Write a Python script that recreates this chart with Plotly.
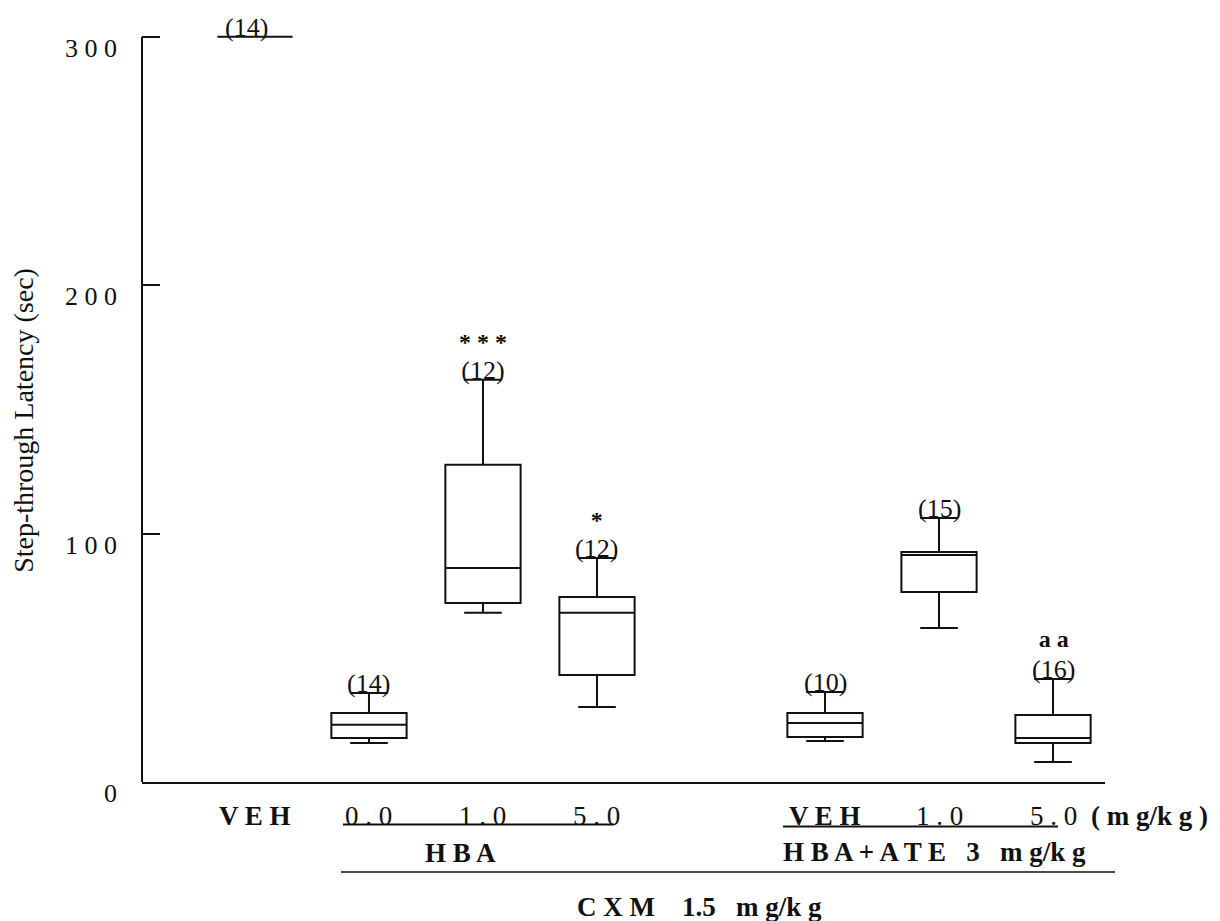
import plotly.graph_objects as go

# ---------------- data ----------------
positions = [0, 1, 2, 3, 5, 6, 7]
dose_labels = ["V E H", "0 . 0", "1 . 0", "5 . 0", "V E H", "1 . 0", "5 . 0"]
n_labels = ["(14)", "(14)", "(12)", "(12)", "(10)", "(15)", "(16)"]
sig_labels = ["", "", "* * *", "*", "", "", "a a"]
upper = [300, 35.8, 161.9, 90.2, 36.2, 106.3, 41.5]
q3 = [300, 27.8, 127.7, 74.5, 27.8, 92.6, 27.0]
median = [300, 23.0, 86.2, 68.1, 23.8, 91.4, 17.7]
q1 = [300, 17.7, 72.1, 43.1, 18.1, 76.5, 15.7]
lower = [300, 15.7, 68.1, 30.2, 16.5, 62.0, 8.1]
y_tickvals = [0, 100, 200, 300]
y_ticktext = ["0", "1 0 0", "2 0 0", "3 0 0"]

FONT = "Liberation Serif"
INK = "#111111"
SP = "\u00a0"

# plot-area geometry (pixels)
L, R, T, B = 142, 115, 12, 139
W, H = 1220, 921
PW, PH = W - L - R, H - T - B
XR = [-0.991, 7.456]


def xpaper(d, dpx=0):
    """x position (paper) of data coordinate d shifted by dpx pixels."""
    px = (d - XR[0]) / (XR[1] - XR[0]) * PW + dpx
    return px / PW


def ypaper(pix_below_axis):
    return -pix_below_axis / PH


fig = go.Figure()
fig.add_trace(go.Box(
    x=positions, q1=q1, median=median, q3=q3,
    lowerfence=lower, upperfence=upper,
    width=0.66, whiskerwidth=0.5,
    fillcolor="rgba(0,0,0,0)",
    line=dict(color=INK, width=2),
    boxpoints=False, showlegend=False, hoverinfo="skip",
))

ann = []
# n labels (with significance marks above) at the whisker tops
for p, n, s, u in zip(positions, n_labels, sig_labels, upper):
    if not s:
        ann.append(dict(x=p, y=u, xref="x", yref="y", text=n, showarrow=False,
                        xanchor="center", yanchor="bottom", yshift=-7,
                        xshift=-8 if p == 0 else 0,
                        font=dict(family=FONT, size=26, color=INK)))
    else:
        base = 24 if s.startswith("a") else 22
        txt = (f"<span style='font-size:24px'><b>{s}</b></span><br>"
               f"<span style='font-size:26px'>{n}</span>")
        ann.append(dict(x=p, y=u, xref="x", yref="y", text=txt, showarrow=False,
                        xanchor="center", yanchor="bottom", yshift=-7,
                        font=dict(family=FONT, size=base, color=INK)))

# dose labels row
for p, lab in zip(positions, dose_labels):
    bold = lab.startswith("V")
    ann.append(dict(x=p, y=0, xref="x", yref="paper",
                    text=f"<b>{lab}</b>" if bold else lab, showarrow=False,
                    xanchor="center", yanchor="middle", yshift=-34,
                    font=dict(family=FONT, size=27, color=INK)))
ann.append(dict(x=positions[-1], y=0, xref="x", yref="paper",
                text=f"<b>({SP}m{SP}g/k{SP}g{SP})</b>",
                showarrow=False, xanchor="left", yanchor="middle", yshift=-34, xshift=36,
                font=dict(family=FONT, size=27, color=INK)))
# group labels
ann.append(dict(x=(positions[1] + positions[2]) / 2 + 0.3, y=0, xref="x", yref="paper",
                text="<b>H B A</b>", showarrow=False, xanchor="center", yanchor="middle",
                yshift=-71, font=dict(family=FONT, size=27, color=INK)))
ann.append(dict(x=positions[4] - 0.39, y=0, xref="x", yref="paper",
                text=f"<b>H B A + A T E{SP}{SP} 3{SP}{SP} m g/k g</b>", showarrow=False,
                xanchor="left", yanchor="middle", yshift=-70,
                font=dict(family=FONT, size=27, color=INK)))
ann.append(dict(x=(positions[0] + positions[-1]) / 2 + 0.4, y=0, xref="x", yref="paper",
                text=f"<b>C X M{SP}{SP}{SP} 1.5{SP}{SP} m g/k g</b>", showarrow=False,
                xanchor="center", yanchor="middle", yshift=-125,
                font=dict(family=FONT, size=27, color=INK)))
# y-axis title
ann.append(dict(x=0, y=0.469, xref="paper", yref="paper", text="Step-through Latency (sec)",
                showarrow=False, textangle=-90, xanchor="center", yanchor="middle",
                xshift=-118, font=dict(family=FONT, size=28, color=INK)))

shapes = [
    # y axis line from 0 to 300
    dict(type="line", xref="paper", yref="y", x0=0, x1=0, y0=0, y1=300,
         line=dict(color=INK, width=2)),
    # underline under HBA doses
    dict(type="line", xref="paper", yref="paper",
         x0=xpaper(positions[1], -26), x1=xpaper(positions[3], 17),
         y0=ypaper(42.5), y1=ypaper(42.5), line=dict(color=INK, width=2)),
    # underline under HBA+ATE doses
    dict(type="line", xref="paper", yref="paper",
         x0=xpaper(positions[4], -42), x1=xpaper(positions[6], 5),
         y0=ypaper(44.5), y1=ypaper(44.5), line=dict(color=INK, width=2)),
    # long line under both groups
    dict(type="line", xref="paper", yref="paper",
         x0=xpaper(positions[1], -28), x1=xpaper(positions[6], 62),
         y0=ypaper(90), y1=ypaper(90), line=dict(color=INK, width=1.5)),
]

fig.update_layout(
    width=W, height=H,
    margin=dict(l=L, r=R, t=T, b=B),
    paper_bgcolor="white", plot_bgcolor="white",
    annotations=ann, shapes=shapes,
    xaxis=dict(range=XR, showgrid=False, zeroline=False,
               showline=True, linecolor=INK, linewidth=2,
               showticklabels=False, ticks=""),
    yaxis=dict(range=[0, 310], showgrid=False, zeroline=False, showline=False,
               tickvals=y_tickvals, ticktext=y_ticktext,
               ticks="inside", ticklen=18, tickwidth=2, tickcolor=INK,
               ticklabelshift=11, ticklabelstandoff=24,
               tickfont=dict(family=FONT, size=26, color=INK)),
)

fig.write_html("out.html")
